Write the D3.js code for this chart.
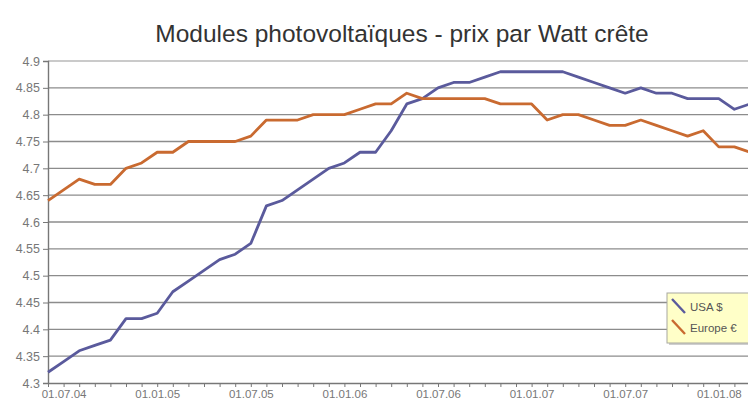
<!DOCTYPE html>
<html>
<head>
<meta charset="utf-8">
<script src="https://cdn.jsdelivr.net/npm/d3@7"></script>
<style>
    body { margin: 0; background: #fff; }
    text { font-family: "Liberation Sans", Arial, sans-serif; }
</style>
</head>
<body>
<div id="chart"></div>
<script>
// months from 01.06.04 to 01.03.08, one value per month
let months = d3.timeMonth.range(new Date(2004, 5, 1), new Date(2008, 3, 1));
let usa = [4.32, 4.34, 4.36, 4.37, 4.38, 4.42, 4.42, 4.43, 4.47, 4.49, 4.51, 4.53,
    4.54, 4.56, 4.63, 4.64, 4.66, 4.68, 4.70, 4.71, 4.73, 4.73, 4.77, 4.82,
    4.83, 4.85, 4.86, 4.86, 4.87, 4.88, 4.88, 4.88, 4.88, 4.88, 4.87, 4.86,
    4.85, 4.84, 4.85, 4.84, 4.84, 4.83, 4.83, 4.83, 4.81, 4.82];
let europe = [4.64, 4.66, 4.68, 4.67, 4.67, 4.70, 4.71, 4.73, 4.73, 4.75, 4.75, 4.75,
    4.75, 4.76, 4.79, 4.79, 4.79, 4.80, 4.80, 4.80, 4.81, 4.82, 4.82, 4.84,
    4.83, 4.83, 4.83, 4.83, 4.83, 4.82, 4.82, 4.82, 4.79, 4.80, 4.80, 4.79,
    4.78, 4.78, 4.79, 4.78, 4.77, 4.76, 4.77, 4.74, 4.74, 4.73];
let yTicks = [4.3, 4.35, 4.4, 4.45, 4.5, 4.55, 4.6, 4.65, 4.7, 4.75, 4.8, 4.85, 4.9];
let series = [
    {name: "USA $", values: usa, color: "#5a5a9c"},
    {name: "Europe €", values: europe, color: "#c96a30"}
];

let W = 748, H = 407;
let m = {left: 48, top: 61, bottom: 383, right: 760};

let svg = d3.select("div#chart").append("svg")
    .attr("width", W)
    .attr("height", H);

let x = d3.scaleLinear().domain([0, months.length - 1]).range([m.left, m.left + 15.6 * (months.length - 1)]);
let y = d3.scaleLinear().domain([4.3, 4.9]).range([m.bottom, m.top]);
let fmt = d3.timeFormat("%d.%m.%y");

svg.append("text")
    .attr("x", 402)
    .attr("y", 42)
    .attr("text-anchor", "middle")
    .attr("font-size", 24.5)
    .attr("fill", "#333")
    .text("Modules photovoltaïques - prix par Watt crête");

// grid
svg.append("g").selectAll("line").data(yTicks.slice(1)).enter().append("line")
    .attr("x1", m.left).attr("x2", m.right)
    .attr("y1", d => y(d)).attr("y2", d => y(d))
    .attr("stroke", d => d === 4.9 ? "#b8b8b8" : "#8c8c8c")
    .attr("stroke-width", 1.4);

// y axis
let yAxis = svg.append("g")
    .attr("transform", `translate(${m.left},0)`)
    .call(d3.axisLeft(y).tickValues(yTicks).tickSize(5).tickPadding(3).tickFormat(d => d3.format("")(+d.toFixed(2))));
yAxis.select(".domain").attr("stroke", "#777").attr("stroke-width", 1.4);
yAxis.selectAll(".tick line").attr("stroke", "#777");
yAxis.selectAll("text").attr("font-size", 12.5).attr("fill", "#777").attr("font-family", "Liberation Sans, Arial, sans-serif");

// x axis, tick every month, label every 6 months
let xAxis = svg.append("g")
    .attr("transform", `translate(0,${m.bottom})`)
    .call(d3.axisBottom(x).tickValues(d3.range(months.length)).tickSize(4).tickSizeOuter(0).tickPadding(3)
        .tickFormat(i => (months[i].getMonth() % 6 === 0) ? fmt(months[i]) : ""));
xAxis.select(".domain").attr("stroke", "#777").attr("stroke-width", 1.4);
xAxis.selectAll(".tick line").attr("stroke", "#777");
xAxis.selectAll("text").attr("font-size", 11.5).attr("fill", "#777").attr("font-family", "Liberation Sans, Arial, sans-serif");

let line = d3.line().x((d, i) => x(i)).y(d => y(d));
svg.append("g").selectAll("path").data(series).enter().append("path")
    .attr("d", d => line(d.values))
    .attr("fill", "none")
    .attr("stroke", d => d.color)
    .attr("stroke-width", 2.8)
    .attr("stroke-linejoin", "round");

// legend
let lg = svg.append("g").attr("transform", "translate(667,293)");
lg.append("rect").attr("x", 2).attr("y", 2).attr("width", 90).attr("height", 50).attr("fill", "#cfcfcf");
lg.append("rect").attr("width", 90).attr("height", 50).attr("fill", "#ffffc8").attr("stroke", "#a8a8a0");
let item = lg.selectAll("g.item").data(series).enter().append("g")
    .attr("class", "item")
    .attr("transform", (d, i) => `translate(0,${5 + i * 21})`);
item.append("line")
    .attr("x1", 5).attr("y1", 1).attr("x2", 18).attr("y2", 15)
    .attr("stroke", d => d.color).attr("stroke-width", 2.4);
item.append("text")
    .attr("x", 23).attr("y", 13)
    .attr("font-size", 11.5)
    .attr("fill", "#555")
    .text(d => d.name);
</script>
</body>
</html>
